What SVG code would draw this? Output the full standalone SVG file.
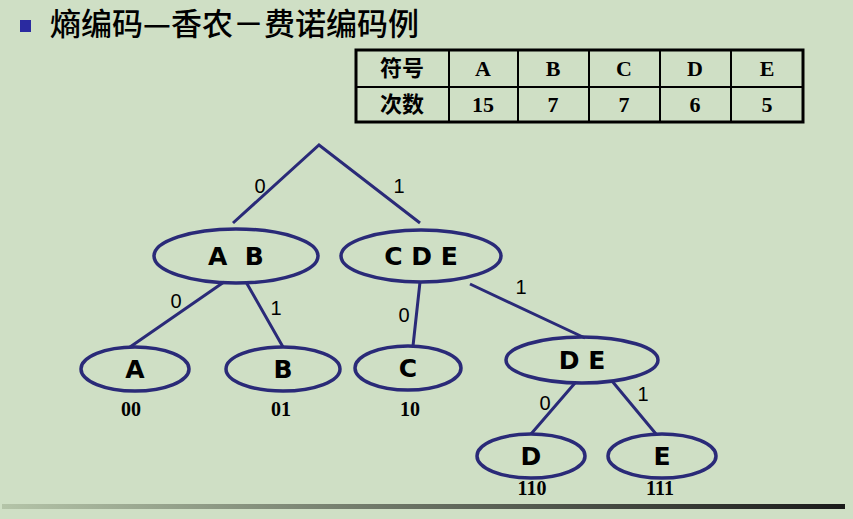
<svg xmlns="http://www.w3.org/2000/svg" width="853" height="519" viewBox="0 0 853 519">
<defs>
<linearGradient id="bar" x1="0" x2="1" y1="0" y2="0"><stop offset="0" stop-color="#b4c4a8"/><stop offset="1" stop-color="#1a1a1a"/></linearGradient>
<style>
.n{fill:none;stroke:#2a2a78;stroke-width:3.5}
.nl{font-family:"DejaVu Sans",sans-serif;font-weight:bold;font-size:25px;text-anchor:middle}
.e{font-family:"Liberation Sans",sans-serif;font-size:20px;text-anchor:middle}
.c{font-family:"Liberation Serif",serif;font-weight:bold;font-size:20px;text-anchor:middle}
.t{font-family:"Liberation Serif","Noto Sans CJK SC",serif;font-weight:bold;font-size:22px;text-anchor:middle}
.l{fill:none;stroke:#2a2a78;stroke-width:3}
</style>
</defs>
<rect width="853" height="519" fill="#cfdfc5"/>
<rect x="20" y="20" width="11" height="12" fill="#2a2aa0"/>
<text x="50" y="35" font-family="Noto Sans CJK SC,sans-serif" font-size="31" font-weight="500">熵编码—香农－费诺编码例</text>
<g id="table">
<rect x="356" y="50" width="447" height="72" fill="none" stroke="#000" stroke-width="3"/>
<path d="M356 87H803M449 50V122M518 50V122M589 50V122M660 50V122M731 50V122" stroke="#000" stroke-width="2"/>
<text class="t" x="402" y="76">符号</text><text class="t" x="483" y="76">A</text><text class="t" x="553" y="76">B</text><text class="t" x="624" y="76">C</text><text class="t" x="695" y="76">D</text><text class="t" x="767" y="76">E</text>
<text class="t" x="402" y="112">次数</text><text class="t" x="483" y="112">15</text><text class="t" x="553" y="112">7</text><text class="t" x="624" y="112">7</text><text class="t" x="695" y="112">6</text><text class="t" x="767" y="112">5</text>
</g>
<g id="connectors">
<path class="l" d="M233 223L319 145L420 223M224 282L130 347M246 282L283 347M420 282L413 346M470 284L585 338M575 383L531 434M612 381L656 434"/>
<text class="e" x="260" y="193">0</text><text class="e" x="399" y="193">1</text>
<text class="e" x="176" y="308">0</text><text class="e" x="276" y="315">1</text>
<text class="e" x="404" y="322">0</text><text class="e" x="521" y="294">1</text>
<text class="e" x="545" y="410">0</text><text class="e" x="643" y="401">1</text>
</g>
<g id="AB"><ellipse class="n" cx="236" cy="256" rx="82" ry="27"/><text class="nl" x="236" y="265" xml:space="preserve" style="white-space:pre">A  B</text></g>
<g id="CDE"><ellipse class="n" cx="421" cy="256" rx="80" ry="26"/><text class="nl" x="421" y="265">C D E</text></g>
<g id="A"><ellipse class="n" cx="135" cy="369" rx="54" ry="22"/><text class="nl" x="135" y="378">A</text><text class="c" x="131" y="416">00</text></g>
<g id="B"><ellipse class="n" cx="283" cy="369" rx="57" ry="22"/><text class="nl" x="283" y="378">B</text><text class="c" x="281" y="416">01</text></g>
<g id="C"><ellipse class="n" cx="408" cy="368" rx="53" ry="22"/><text class="nl" x="408" y="377">C</text><text class="c" x="410" y="416">10</text></g>
<g id="DE"><ellipse class="n" cx="582" cy="360" rx="76" ry="23"/><text class="nl" x="582" y="369">D E</text></g>
<g id="D"><ellipse class="n" cx="531" cy="456" rx="54" ry="22"/><text class="nl" x="531" y="465">D</text><text class="c" x="532" y="495">110</text></g>
<g id="E"><ellipse class="n" cx="662" cy="456" rx="54" ry="22"/><text class="nl" x="662" y="465">E</text><text class="c" x="660" y="495">111</text></g>
<rect x="2" y="504" width="843" height="5" fill="url(#bar)"/>
</svg>
